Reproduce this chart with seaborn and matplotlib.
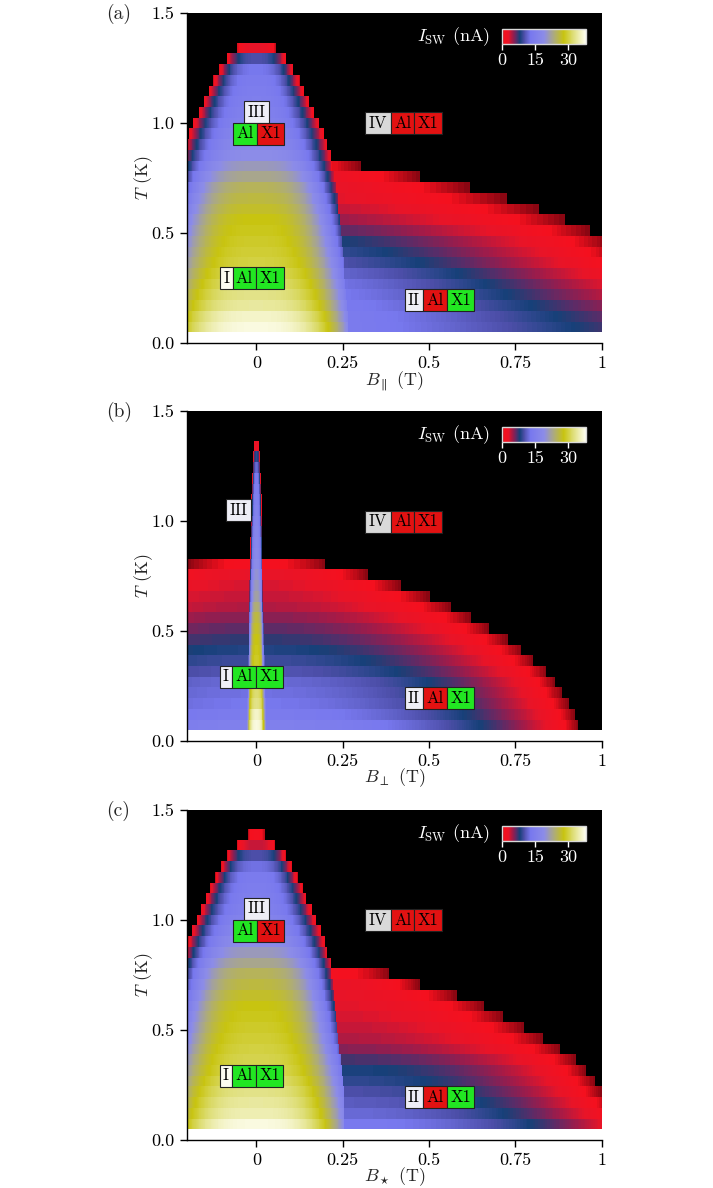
import numpy as np
import matplotlib
matplotlib.use("Agg")
import matplotlib.pyplot as plt
import seaborn as sns
from matplotlib.colors import LinearSegmentedColormap
from matplotlib.offsetbox import TextArea, HPacker, PaddedBox, AnnotationBbox

# ---------------- data ----------------
# measurement grid
T_BOTTOM, T_STEP, N_ROWS = 0.048, 0.0488, 30
B_MIN, B_MAX, B_STEP = -0.2, 1.0, 0.0025

x_ticks = [0, 0.25, 0.5, 0.75, 1.0]
x_ticklabels = ["0", "0.25", "0.5", "0.75", "1"]
y_ticks = [0.0, 0.5, 1.0, 1.5]
y_ticklabels = ["0.0", "0.5", "1.0", "1.5"]
cbar_ticks = [0, 15, 30]
panel_names = ["(a)", "(b)", "(c)"]
x_labels = [r"$B_\parallel$ (T)", r"$B_\perp$ (T)", r"$B_\star$ (T)"]

# panel (a): B parallel  (row 0 = lowest temperature)
a_dome_halfwidth = [0.266, 0.264, 0.262, 0.260, 0.258, 0.256, 0.254, 0.251, 0.248, 0.245,
                    0.242, 0.238, 0.234, 0.229, 0.224, 0.218, 0.214, 0.205, 0.195, 0.183,
                    0.167, 0.153, 0.137, 0.124, 0.107, 0.086, 0.057]
a_dome_center = [37, 36, 34, 33, 32, 31, 30, 29.5, 29, 28.5, 28, 27, 26, 25, 23, 21, 19, 18,
                 17, 16, 15.5, 15, 14.5, 14, 13, 10, 3]
a_dome_edge = [18, 17, 16, 15, 14, 13, 12, 11, 10, 9, 8, 7, 6, 5, 4, 3, 2, 1.5, 1, 1, 1, 1, 1,
               0.8, 0.8, 0.6, 0.5]
a_tail_start = [14, 14, 13.5, 13, 12.5, 11.5, 10, 9, 8, 6.5, 5, 4, 3.2, 3, 2.5, 1.2]
a_tail_end = [1.6, 1.5, 1.4, 1.3, 1.22, 1.15, 1.10, 1.06, 1.02, 0.967, 0.894, 0.817, 0.725,
              0.618, 0.475, 0.303]

# panel (b): B perpendicular
b_dome_halfwidth = [0.029, 0.028, 0.028, 0.027, 0.026, 0.025, 0.025, 0.024, 0.023, 0.023,
                    0.022, 0.021, 0.020, 0.020, 0.019, 0.018, 0.017, 0.017, 0.016, 0.015,
                    0.014, 0.014, 0.013, 0.012, 0.011, 0.010, 0.008]
b_dome_center = [37, 36, 33, 32, 31, 30, 29, 28.5, 28, 27, 26, 24, 22, 21, 20, 19, 18, 17.5,
                 17, 16.5, 16, 15.5, 15, 14, 12, 9, 3]
b_dome_edge = [14, 13, 12, 11, 10, 9, 8, 7, 6, 5, 4, 3.5, 3, 2.5, 2, 1.5, 1, 1, 1, 1, 1, 1,
               0.8, 0.8, 0.6, 0.5, 0.5]
b_tail_start = [15.5, 14, 13, 12.5, 12, 10.5, 9.5, 8.5, 7.5, 6.5, 5.5, 4.5, 4, 3.5, 3, 1.5]
b_tail_end = [0.933, 0.923, 0.904, 0.885, 0.865, 0.841, 0.802, 0.768, 0.728, 0.676, 0.623,
              0.565, 0.502, 0.42, 0.323, 0.20]

# panel (c): B star
c_dome_halfwidth = [0.255, 0.254, 0.253, 0.252, 0.250, 0.248, 0.245, 0.240, 0.236, 0.233,
                    0.231, 0.228, 0.225, 0.222, 0.218, 0.214, 0.206, 0.197, 0.187, 0.173,
                    0.160, 0.146, 0.134, 0.119, 0.102, 0.085, 0.056, 0.025]
c_dome_center = [37, 35, 34, 33, 32, 31, 30.5, 30, 29.5, 29, 28.5, 28, 27, 26, 25, 23, 21, 19,
                 17.5, 16.5, 15.5, 15, 14.5, 14, 12.5, 10, 4, 1.5]
c_dome_edge = [18, 17, 16, 15, 14, 13, 12, 11, 10, 9, 8, 7, 6, 5, 4, 3, 2, 1.5, 1, 1, 1, 1, 1,
               0.8, 0.8, 0.6, 0.5, 0.5]
c_tail_start = [13.5, 12, 11, 10, 9, 8.3, 7, 5.5, 4.5, 4, 3.5, 3.2, 3, 2.8, 1.5]
c_tail_end = [1.10, 1.06, 1.03, 1.00, 0.98, 0.955, 0.925, 0.88, 0.83, 0.775, 0.715, 0.66,
              0.58, 0.475, 0.385]

# region tags: (B, T, [(text, colour), ...])
GREEN, RED, LIGHT, GREY = "#22e622", "#e21212", "#eeeef6", "#d9d9d9"
tags = [
    [(0.0, 1.05, [("III", LIGHT)], "c"), (-0.067, 0.951, [("Al", GREEN), ("X1", RED)], "l"),
     (0.316, 1.0, [("IV", GREY), ("Al", RED), ("X1", RED)], "l"),
     (-0.1055, 0.296, [("I", "#fbfbf0"), ("Al", GREEN), ("X1", GREEN)], "l"),
     (0.429, 0.195, [("II", LIGHT), ("Al", RED), ("X1", GREEN)], "l")],
    [(-0.051, 1.05, [("III", LIGHT)], "c"),
     (0.316, 0.997, [("IV", GREY), ("Al", RED), ("X1", RED)], "l"),
     (-0.1065, 0.292, [("I", LIGHT), ("Al", GREEN), ("X1", GREEN)], "l"),
     (0.429, 0.194, [("II", LIGHT), ("Al", RED), ("X1", GREEN)], "l")],
    [(0.0, 1.051, [("III", LIGHT)], "c"), (-0.067, 0.952, [("Al", GREEN), ("X1", RED)], "l"),
     (0.316, 1.0, [("IV", GREY), ("Al", RED), ("X1", RED)], "l"),
     (-0.1065, 0.292, [("I", "#fbfbf0"), ("Al", GREEN), ("X1", GREEN)], "l"),
     (0.429, 0.195, [("II", LIGHT), ("Al", RED), ("X1", GREEN)], "l")],
]

# ---------------- style ----------------
sns.set_style("ticks")
plt.rcParams.update({
    "font.family": ["serif"], "font.serif": ["cmr10", "DejaVu Serif"],
    "mathtext.fontset": "cm", "axes.formatter.use_mathtext": True,
    "axes.unicode_minus": False, "axes.linewidth": 1.0,
})

VMAX = 38.0
nodes = [(0, "#8a0612"), (1.2, "#f5101e"), (3, "#e81428"), (5, "#9a1c4c"), (6.5, "#5a2c68"),
         (8, "#164078"), (10, "#4c4ea8"), (13, "#7878ee"), (19, "#8c8ce8"),
         (23.5, "#acaa80"), (28, "#c8c410"), (32, "#dcdc70"), (38, "#fffff4")]
cmap = LinearSegmentedColormap.from_list("isw", [(v / VMAX, c) for v, c in nodes])
cmap.set_under("black")

NB = int(round((B_MAX - B_MIN) / B_STEP))
B = B_MIN + B_STEP * (np.arange(NB) + 0.5)
DOME_EXP = 3.0


def bx(b):
    return (b - B_MIN) / B_STEP


def ty(t):
    return (t - T_BOTTOM) / T_STEP


def build(hw, cen, edg, t_start, t_end, p_tail, symmetric):
    Z = np.full((N_ROWS, NB), -1.0)
    for r in range(len(hw)):
        u = np.abs(B) / hw[r]
        dome = np.where(u <= 1, edg[r] + (cen[r] - edg[r]) * (1 - u ** DOME_EXP), -1.0)
        Z[r] = np.maximum(Z[r], dome)
    for r in range(len(t_start)):
        if symmetric:
            s = np.abs(B) / t_end[r]
        else:
            s = (np.abs(B) - hw[r]) / (t_end[r] - hw[r])
        tail = np.where((s >= 0) & (s <= 1), t_start[r] * (1 - np.clip(s, 0, 1) ** p_tail), -1.0)
        Z[r] = np.maximum(Z[r], tail)
    return Z


grids = [
    build(a_dome_halfwidth, a_dome_center, a_dome_edge, a_tail_start, a_tail_end, 1.2, False),
    build(b_dome_halfwidth, b_dome_center, b_dome_edge, b_tail_start, b_tail_end, 2.0, True),
    build(c_dome_halfwidth, c_dome_center, c_dome_edge, c_tail_start, c_tail_end, 2.0, False),
]

fig = plt.figure(figsize=(7.13, 11.88), dpi=100)
W, H = 713.0, 1188.0
axes_px = [(187.3, 13, 601.7, 343), (187.3, 411, 601.7, 741), (187.3, 810, 601.7, 1140)]


def add_tag(ax, b, t, items, mode):
    boxes = []
    for txt, col in items:
        ta = TextArea(txt, textprops=dict(fontsize=12, color="black"))
        pb = PaddedBox(ta, pad=2.4, draw_frame=True,
                       patch_attrs=dict(facecolor=col, edgecolor="#222222", linewidth=0.8))
        boxes.append(pb)
    pack = HPacker(children=boxes, pad=0, sep=0, align="center")
    align = (0.5, 0.5) if mode == "c" else (0.0, 0.5)
    ab = AnnotationBbox(pack, (bx(b), ty(t)), xycoords="data", box_alignment=align,
                        frameon=False, pad=0, zorder=5)
    ax.add_artist(ab)


for i, Z in enumerate(grids):
    l, t, r, bt = axes_px[i]
    ax = fig.add_axes([l / W, 1 - bt / H, (r - l) / W, (bt - t) / H])
    ax.set_facecolor("white")
    sns.heatmap(Z, ax=ax, cmap=cmap, vmin=0, vmax=VMAX, cbar=False,
                xticklabels=False, yticklabels=False)
    ax.set_xlim(bx(B_MIN), bx(B_MAX))
    ax.set_ylim(ty(0.0), ty(1.5))
    for side in ["left", "bottom"]:
        ax.spines[side].set_visible(True)
        ax.spines[side].set_color("black")
        ax.spines[side].set_linewidth(1.0)
    for side in ["top", "right"]:
        ax.spines[side].set_visible(False)
    ax.set_xticks([bx(v) for v in x_ticks])
    ax.set_xticklabels(x_ticklabels)
    ax.set_yticks([ty(v) for v in y_ticks])
    ax.set_yticklabels(y_ticklabels, rotation=0)
    ax.tick_params(axis="both", direction="out", length=5, width=1.0, labelsize=13,
                   colors="black", left=True, bottom=True, pad=4)
    ax.set_xlabel(x_labels[i], fontsize=13, labelpad=-1.5)
    ax.set_ylabel(r"$T$ (K)", fontsize=13, labelpad=-2.5)

    # colour bar inset
    cax = ax.inset_axes([0.759, 0.905, 0.203, 0.047])
    cb = fig.colorbar(ax.collections[0], cax=cax, orientation="horizontal", ticks=cbar_ticks)
    cb.outline.set_edgecolor("#d8d8d8")
    cb.outline.set_linewidth(1.0)
    cax.tick_params(colors="white", labelcolor="white", labelsize=13, length=4, width=1.0,
                    direction="out", pad=2)
    cax.set_xticklabels([str(v) for v in cbar_ticks])
    ax.text(0.73, 0.927, r"$I_{\rm SW}$ (nA)", transform=ax.transAxes, color="white",
            fontsize=13, ha="right", va="center")

    for b, tt, items, mode in tags[i]:
        add_tag(ax, b, tt, items, mode)

    fig.text(106 / W, 1 - (t + 1) / H, panel_names[i], fontsize=14, ha="left", va="center")

fig.savefig("out.png", dpi=100)
